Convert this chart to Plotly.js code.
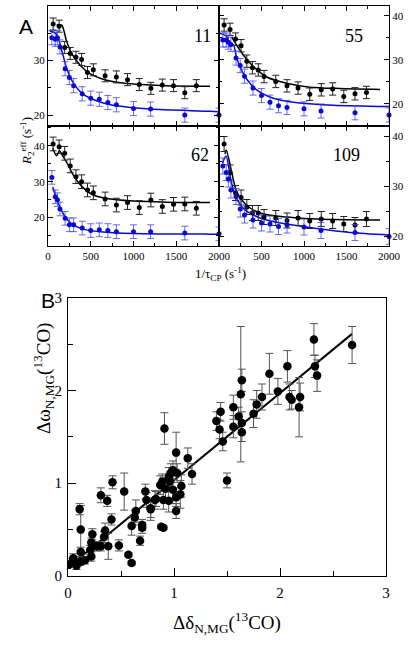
<!DOCTYPE html>
<html><head><meta charset="utf-8">
<script src="https://cdn.plot.ly/plotly-3.0.1.min.js"></script>
<style>html,body{margin:0;padding:0;background:#fff;}#chart{width:408px;height:650px;}</style>
</head><body><div id="chart"></div>
<script>
// ---------- Panel A data (R2eff vs 1/tauCP) ----------
const blackX = [60,130,195,260,327,393,462,530,668,800,930,1068,1203,1337,1468,1600,1735];
const blueX  = [45,85,110,140,200,250,300,400,500,600,700,800,1000,1200,1600,2000];

const black11 = [36.7,36.3,32.4,31.3,30.6,30.2,27.8,28.3,27.2,27.0,26.5,25.6,24.9,25.5,25.4,24.1,25.4];
const blue11  = [34.2,33.9,34.2,32.5,28.5,26.9,25.4,23.9,23.1,22.9,22.3,21.9,21.2,21.1,20.0,20.0];
const black55 = [37.9,36.9,34.7,33.2,29.7,28.2,27.7,26.2,25.1,24.1,23.6,22.2,23.2,23.4,21.7,22.3,22.6];
const blue55  = [34.5,34.5,34.0,33.5,30.4,28.7,26.3,23.6,21.9,20.4,19.6,19.2,18.9,18.4,18.0,17.5];
const black62 = [40.5,39.7,37.9,34.4,31.4,30.0,27.7,26.9,25.2,23.5,24.2,22.8,24.9,23.1,23.7,23.8,22.6];
const blue62  = [31.2,25.8,25.0,22.4,19.8,18.0,18.0,17.1,16.4,16.6,16.4,16.1,16.1,16.1,15.7,15.5];
const black109= [38.5,32.8,28.7,27.8,25.9,24.7,24.7,23.9,23.7,23.2,23.7,23.1,23.5,23.1,22.5,22.3,23.5];
const blue109 = [34.1,32.8,31.5,29.3,28.0,25.5,24.3,23.3,22.7,22.5,22.0,22.3,21.9,21.2,20.8,20.0];

const errBlack = {r11:1.1, r55:1.4, r62:1.9, r109:1.5};
const errBlue  = {r11:1.3, r55:1.6, r62:1.9, r109:1.6};

// fitted curves
const fitBlackX11 = [101,160,218,277,374,491,686,998,1388,1895];
const fitBlackY11 = [36.5,36.5,33.5,31.3,29.2,27.6,26.4,25.7,25.4,25.3];
const fitBlueX11  = [20,94,160,218,296,413,608,803,1193,1895,2000];
const fitBlueY11  = [35.4,34.9,31.9,28.6,25.9,23.8,22.4,21.7,21.1,20.7,20.6];
const fitBlackX55 = [150,169,286,404,561,796,1071,1424,1894];
const fitBlackY55 = [35.2,34.5,31.1,28.5,26.1,24.7,23.8,23.5,23.3];
const fitBlueX55  = [12,90,129,169,208,306,443,639,953,1345,2000];
const fitBlueY55  = [36.0,35.3,33.0,33.4,30.4,26.2,23.2,21.3,20.2,19.7,19.4];
const fitBlackX62 = [55,101,133,179,238,296,394,511,686,998,1388,1895];
const fitBlackY62 = [39.3,37.2,38.6,36.9,34.6,31.8,28.7,26.5,25.3,24.6,24.3,24.2];
const fitBlueX62  = [55,109,160,218,296,413,608,998,1895,2000];
const fitBlueY62  = [28.5,24.6,21.9,19.6,18.0,16.8,16.1,15.6,15.4,15.4];
const fitBlackX109= [71,85,149,200,267,365,522,796,1149,1894];
const fitBlackY109= [36.5,37.3,32.9,29.3,27.3,25.7,24.5,23.9,23.5,23.3];
const fitBlueX109 = [43,82,149,208,286,404,561,796,1149,1541,2000];
const fitBlueY109 = [34.7,36.1,30.6,27.6,25.6,24.3,23.3,22.5,21.6,20.8,20.3];

const residueLabels = ['11','55','62','109'];
const xTickVals = [0,500,1000,1500,2000];
const xTickTextLeft = ['0','500','1000','1500','2000'];
const xTickTextRight = ['','500','1000','1500','2000'];

// ---------- Panel B data ----------
const dDelta = [2.68,2.32,2.33,2.35,1.90,2.07,1.98,2.09,2.11,2.19,2.18,1.83,1.78,1.75,1.64,1.63,1.64,1.61,1.64,1.56,1.56,1.44,1.40,1.43,1.46,1.50,
  0.91,1.02,1.13,1.17,0.99,0.97,1.03,0.95,0.89,0.87,0.96,0.92,1.07,0.99,1.06,1.02,0.83,0.90,0.95,1.02,0.78,0.88,0.90,
  0.006,0.05,0.08,0.04,0.12,0.16,0.11,0.12,0.12,0.22,0.21,0.23,0.22,0.27,0.31,0.34,0.35,0.38,0.41,0.31,0.37,0.42,0.48,0.53,0.57,0.60,0.68,0.60,0.63,0.64,0.70,0.70,0.73,0.74,0.78,0.82];
const dOmega = [2.49,2.55,2.26,2.16,2.18,2.26,1.99,1.93,1.90,1.93,1.82,1.93,1.85,1.75,2.11,1.96,1.55,1.72,1.65,1.82,1.61,1.77,1.67,1.58,1.45,1.03,
  1.59,1.33,1.27,1.10,1.14,1.11,1.11,1.07,1.02,0.98,1.02,0.94,0.97,0.93,0.88,0.85,0.83,0.82,0.81,0.70,0.73,0.53,0.52,
  0.12,0.19,0.11,0.15,0.15,0.17,0.72,0.50,0.26,0.21,0.28,0.45,0.36,0.32,0.32,0.42,0.49,0.32,0.61,0.87,0.81,1.01,0.33,0.91,0.23,0.14,0.38,0.54,0.63,0.70,0.52,0.55,0.91,0.82,0.72,0.82];
const dOmegaErr = [0.20,0.17,0.12,0.17,0.22,0.17,0.14,0.14,0.10,0.15,0.32,0.14,0.15,0.15,0.12,0.73,0.10,0.10,0.12,0.13,0.12,0.10,0.10,0.10,0.10,0.08,
  0.17,0.22,0.11,0.11,0.10,0.10,0.10,0.10,0.08,0.10,0.10,0.10,0.12,0.15,0.15,0.10,0.08,0.10,0.12,0.08,0.10,0.02,0.02,
  0.03,0.05,0.04,0.04,0.03,0.04,0.06,0.26,0.05,0.05,0.05,0.06,0.05,0.05,0.05,0.06,0.08,0.14,0.06,0.08,0.06,0.07,0.06,0.20,0.02,0.02,0.05,0.10,0.08,0.12,0.06,0.06,0.08,0.08,0.12,0.10];
const fitBx = [0.05,2.68];
const fitBy = [0.14,2.61];

// ---------- Build ----------
const W=408, H=650;
const fx = v => v/W, fy = v => 1 - v/H;
const serif = 'Liberation Serif, Times New Roman, serif';
const BLUE = '#0a0ad8';
const BLUE_ERR = 'rgba(60,60,230,0.75)';

const panels = [
  {ax:'', bk:black11, bl:blue11, eb:errBlack.r11, eu:errBlue.r11, fbx:fitBlackX11, fby:fitBlackY11, fux:fitBlueX11, fuy:fitBlueY11},
  {ax:'2', bk:black55, bl:blue55, eb:errBlack.r55, eu:errBlue.r55, fbx:fitBlackX55, fby:fitBlackY55, fux:fitBlueX55, fuy:fitBlueY55},
  {ax:'3', bk:black62, bl:blue62, eb:errBlack.r62, eu:errBlue.r62, fbx:fitBlackX62, fby:fitBlackY62, fux:fitBlueX62, fuy:fitBlueY62},
  {ax:'4', bk:black109, bl:blue109, eb:errBlack.r109, eu:errBlue.r109, fbx:fitBlackX109, fby:fitBlackY109, fux:fitBlueX109, fuy:fitBlueY109},
];

const traces = [];
panels.forEach(p => {
  const xa = 'x'+p.ax, ya = 'y'+p.ax;
  traces.push({x:p.fbx, y:p.fby, xaxis:xa, yaxis:ya, mode:'lines', line:{color:'#000', width:1.5, shape:'spline', smoothing:0.8}, hoverinfo:'skip', cliponaxis:false});
  traces.push({x:p.fux, y:p.fuy, xaxis:xa, yaxis:ya, mode:'lines', line:{color:BLUE, width:1.5, shape:'spline', smoothing:0.8}, hoverinfo:'skip', cliponaxis:false});
  traces.push({x:blackX, y:p.bk, xaxis:xa, yaxis:ya, mode:'markers', marker:{color:'#000', size:5},
    error_y:{type:'constant', value:p.eb, color:'#222', thickness:1, width:3.5}, cliponaxis:false});
  traces.push({x:blueX, y:p.bl, xaxis:xa, yaxis:ya, mode:'markers', marker:{color:BLUE, size:5},
    error_y:{type:'constant', value:p.eu, color:BLUE_ERR, thickness:1, width:3.5}, cliponaxis:false});
});
traces.push({x:fitBx, y:fitBy, xaxis:'x5', yaxis:'y5', mode:'lines', line:{color:'#000', width:2}, hoverinfo:'skip'});
traces.push({x:dDelta, y:dOmega, xaxis:'x5', yaxis:'y5', mode:'markers', marker:{color:'#000', size:8.5},
  error_y:{type:'data', array:dOmegaErr, visible:true, color:'#555', thickness:1, width:4}});

const tickFontA = {family:serif, size:11, color:'#000'};
const tickFontB = {family:serif, size:15, color:'#000'};

function xA(domain, anchor, labels, text){
  return {domain:domain, anchor:anchor, range:[0,2000], tickmode:'array', tickvals:xTickVals, ticktext:text,
    showticklabels:labels, ticks:'inside', ticklen:5, tickcolor:'#000', mirror:'ticks', showline:true, linecolor:'#000', linewidth:1,
    showgrid:false, zeroline:false, tickfont:tickFontA,
    minor:{tickmode:'linear', tick0:0, dtick:250, ticks:'inside', ticklen:3, tickcolor:'#000', showgrid:false}};
}
function yA(domain, anchor, range, side){
  return {domain:domain, anchor:anchor, range:range, side:side, tickmode:'linear', tick0:0, dtick:10,
    ticks:'inside', ticklen:5, tickcolor:'#000', mirror:'ticks', showline:true, linecolor:'#000', linewidth:1,
    showgrid:false, zeroline:false, tickfont:tickFontA,
    minor:{tickmode:'linear', tick0:0, dtick:5, ticks:'inside', ticklen:3, tickcolor:'#000', showgrid:false}};
}

const dL=[fx(48),fx(219)], dR=[fx(219),fx(389)];
const dT=[fy(126),fy(6)], dBt=[fy(246),fy(126)];

const layout = {
  width:W, height:H, margin:{l:0,r:0,t:0,b:0}, showlegend:false,
  paper_bgcolor:'#fff', plot_bgcolor:'rgba(0,0,0,0)',
  xaxis: xA(dL,'y',false,xTickTextLeft),
  yaxis: yA(dT,'x',[18,40],'left'),
  xaxis2: xA(dR,'y2',false,xTickTextRight),
  yaxis2: yA(dT,'x2',[15,42.2],'right'),
  xaxis3: xA(dL,'y3',true,xTickTextLeft),
  yaxis3: yA(dBt,'x3',[12.1,45.5],'left'),
  xaxis4: xA(dR,'y4',true,xTickTextRight),
  yaxis4: yA(dBt,'x4',[18.1,42.1],'right'),
  xaxis5: {domain:[fx(68),fx(386)], anchor:'y5', range:[0,3], tickmode:'linear', tick0:0, dtick:1,
    ticks:'inside', ticklen:8, tickcolor:'#000', showline:true, mirror:true, linecolor:'#000', linewidth:1,
    showgrid:false, zeroline:false, tickfont:tickFontB, ticklabelstandoff:3,
    minor:{tickmode:'linear', tick0:0, dtick:0.5, ticks:'inside', ticklen:5, tickcolor:'#000', showgrid:false}},
  yaxis5: {domain:[fy(576),fy(297.7)], anchor:'x5', range:[0,3], tickmode:'linear', tick0:0, dtick:1,
    ticks:'inside', ticklen:8, tickcolor:'#000', showline:true, mirror:true, linecolor:'#000', linewidth:1,
    showgrid:false, zeroline:false, tickfont:tickFontB, ticklabelstandoff:2,
    minor:{tickmode:'linear', tick0:0, dtick:0.5, ticks:'inside', ticklen:5, tickcolor:'#000', showgrid:false}},
  annotations: [
    {text:'A', x:fx(17), y:fy(13), xref:'paper', yref:'paper', showarrow:false, font:{family:'Liberation Sans, Arial, sans-serif', size:21, color:'#000'}},
    {text:'B', x:fx(39), y:fy(300), xref:'paper', yref:'paper', showarrow:false, font:{family:'Liberation Sans, Arial, sans-serif', size:21, color:'#000'}},
    {text:residueLabels[0], x:fx(202), y:fy(24), xref:'paper', yref:'paper', showarrow:false, font:{family:serif, size:18, color:'#000'}},
    {text:residueLabels[1], x:fx(365), y:fy(24), xref:'paper', yref:'paper', showarrow:false, font:{family:serif, size:18, color:'#000'}},
    {text:residueLabels[2], x:fx(200), y:fy(143), xref:'paper', yref:'paper', showarrow:false, font:{family:serif, size:18, color:'#000'}},
    {text:residueLabels[3], x:fx(362), y:fy(143), xref:'paper', yref:'paper', showarrow:false, font:{family:serif, size:18, color:'#000'}},
    {text:'1/τ<sub>CP</sub> (s<sup>-1</sup>)', x:fx(220), y:fy(274), xref:'paper', yref:'paper', showarrow:false, font:{family:serif, size:13, color:'#000'}},
    {text:'<i>R</i><sub>2</sub><sup>eff</sup> (s<sup>-1</sup>)', x:fx(16), y:fy(115), xref:'paper', yref:'paper', showarrow:false, textangle:-90, font:{family:serif, size:13, color:'#000'}},
    {text:'Δδ<sub>N,MG</sub>(<sup>13</sup>CO)', x:fx(227), y:fy(638), xref:'paper', yref:'paper', showarrow:false, font:{family:serif, size:19, color:'#000'}},
    {text:'Δω<sub>N,MG</sub>(<sup>13</sup>CO)', x:fx(28), y:fy(436), xref:'paper', yref:'paper', showarrow:false, textangle:-90, font:{family:serif, size:19, color:'#000'}}
  ]
};

Plotly.newPlot('chart', traces, layout, {staticPlot:true, displayModeBar:false});
</script></body></html>
